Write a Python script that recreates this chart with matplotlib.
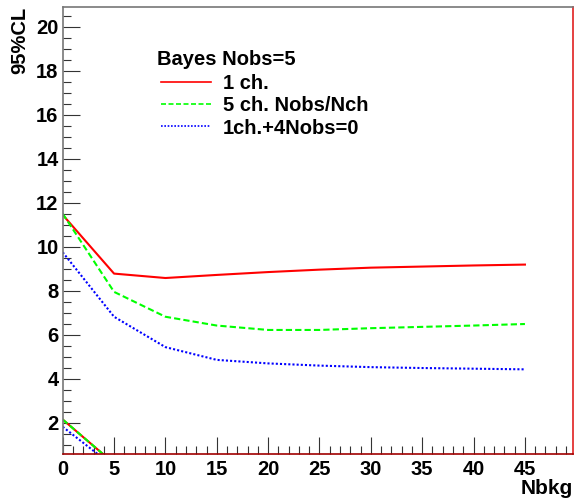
import numpy as np
import matplotlib
matplotlib.use("Agg")
import matplotlib.pyplot as plt
from matplotlib.lines import Line2D
from matplotlib.ticker import MultipleLocator

plt.rcParams['font.family'] = ['Liberation Sans', 'DejaVu Sans']
plt.rcParams['font.weight'] = 'bold'

# upper limits vs background
nbkg = [0, 5, 10, 15, 20, 25, 30, 35, 40, 45]
cl_1ch = [11.45, 8.78, 8.58, 8.72, 8.85, 8.96, 9.05, 9.1, 9.15, 9.19]
cl_5ch = [11.5, 7.95, 6.82, 6.42, 6.22, 6.22, 6.3, 6.36, 6.42, 6.49]
cl_1ch4 = [9.75, 6.82, 5.44, 4.86, 4.7, 4.6, 4.53, 4.49, 4.46, 4.43]

# lower limits (fall off below the axis)
nbkg_lo = [0, 5]
lo_1ch = [2.15, 0.15]
lo_5ch = [2.15, 0.15]
lo_1ch4 = [1.82, 0.0]

labels = ["1 ch.", "5 ch. Nobs/Nch", "1ch.+4Nobs=0"]
colors = ["#ff0000", "#00ff00", "#0000ff"]
styles = ["-", (0, (3, 1.5)), (0, (1, 1))]

W, H = 579, 499
fig = plt.figure(figsize=(W/100, H/100), dpi=100)
ax = fig.add_axes([62.7/W, 1-454.3/H, (572.7-62.7)/W, (454.3-7.3)/H])

upper = [cl_1ch, cl_5ch, cl_1ch4]
lower = [lo_1ch, lo_5ch, lo_1ch4]
for up, lo, c, s in zip(upper, lower, colors, styles):
  ax.plot(nbkg, up, color=c, linestyle=s, lw=1.5)
  ax.plot(nbkg_lo, lo, color=c, linestyle=s, lw=1.5)

ax.set_xlim(0, 49.65)
ax.set_ylim(0.57, 20.88)

ax.xaxis.set_major_locator(MultipleLocator(5))
ax.xaxis.set_minor_locator(MultipleLocator(1))
ax.yaxis.set_major_locator(MultipleLocator(2))
ax.yaxis.set_minor_locator(MultipleLocator(0.5))
ax.set_xticks([0, 5, 10, 15, 20, 25, 30, 35, 40, 45])
ax.set_yticks([2, 4, 6, 8, 10, 12, 14, 16, 18, 20])

ax.tick_params(which='both', direction='in', top=False, right=False, color='#333333', width=0.8)
ax.tick_params(which='major', length=12, labelsize=14.5)
ax.tick_params(which='minor', length=6)
ax.tick_params(axis='x', which='major', pad=4)
ax.tick_params(axis='y', which='major', pad=3)

for sp in ['left', 'top']:
  ax.spines[sp].set_color('#777777')
ax.spines['bottom'].set_color('#a00000')
ax.spines['right'].set_color('#e02020')
for sp in ax.spines.values():
  sp.set_linewidth(1.2)

fig.text(20/W, 1-7/H, "95%CL", rotation=90, ha='center', va='top', fontsize=14.5, fontweight='bold')
fig.text(573/W, 1-494.5/H, "Nbkg", ha='right', va='baseline', fontsize=15, fontweight='bold')

# legend drawn by hand
fig.text(157/W, 1-65/H, "Bayes Nobs=5", ha='left', va='baseline', fontsize=14.5, fontweight='bold')
rows = [81.5, 103.5, 126]
for y, lab, c, s in zip(rows, labels, colors, styles):
  fig.add_artist(Line2D([161/W, 211/W], [1-y/H, 1-y/H], color=c, linestyle=s, lw=1.2))
  fig.text(223/W, 1-y/H, lab, ha='left', va='center_baseline', fontsize=14.5, fontweight='bold')

fig.savefig("out.png", dpi=100)
